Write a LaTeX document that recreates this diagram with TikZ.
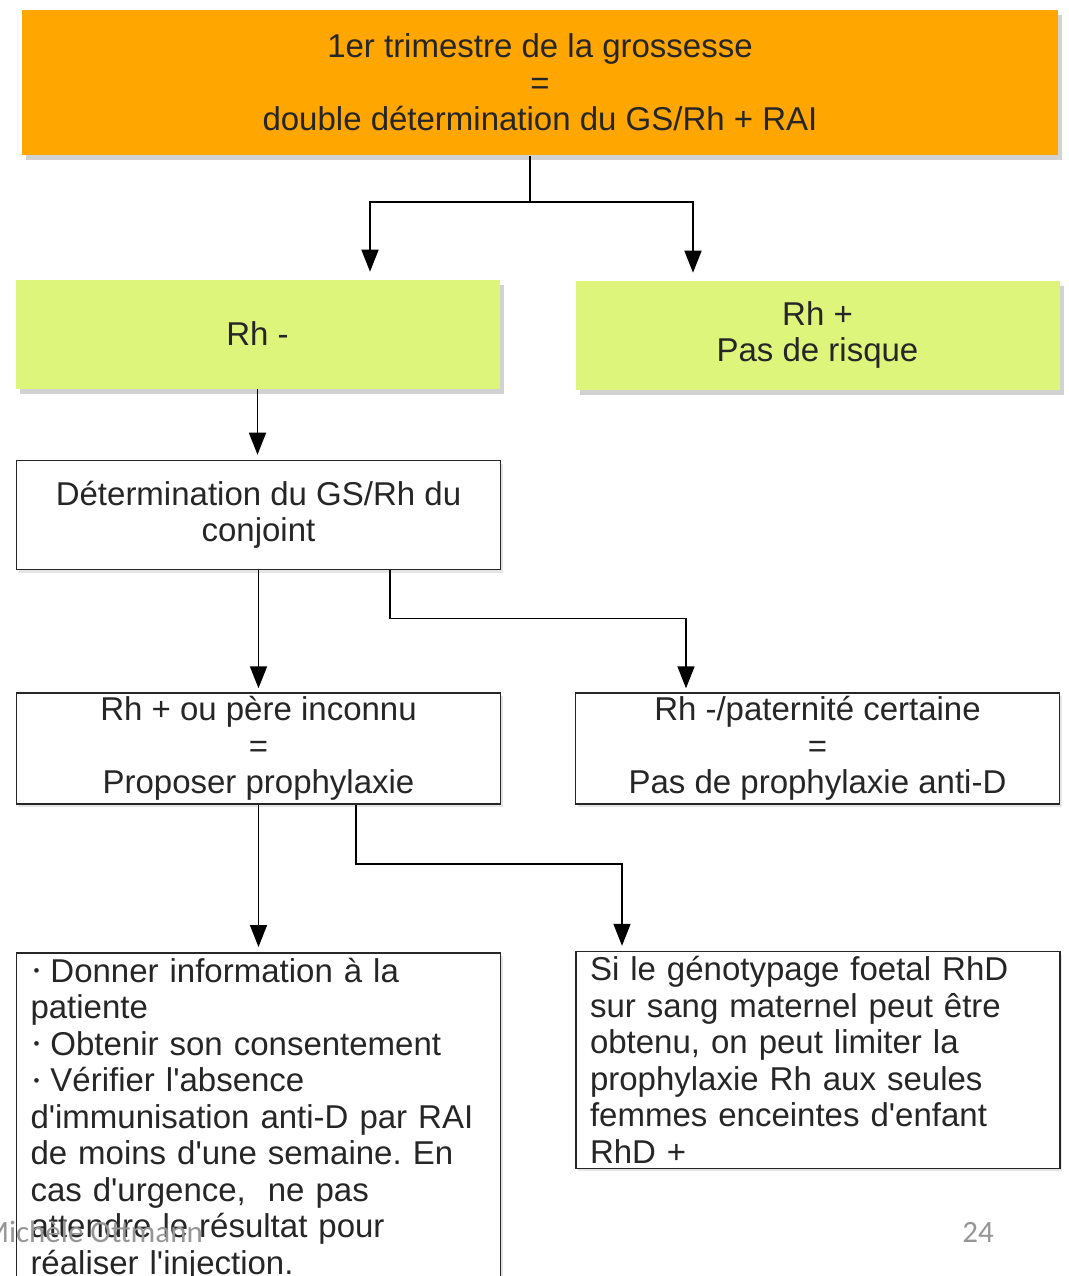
\documentclass[tikz,border=0pt]{standalone}
\usepackage{fontspec}
\setmainfont{Liberation Sans}[Ligatures=TeXOff]
\newfontfamily\footfont{Carlito}
\usetikzlibrary{arrows.meta,calc,shadows}
\definecolor{boxorange}{RGB}{255,166,0}
\definecolor{boxgreen}{RGB}{220,245,122}
\definecolor{footgray}{RGB}{150,150,150}
\newcommand{\flowfont}{\fontsize{33}{36.5}\selectfont}
\newcommand{\puce}{\hspace*{3pt}\raisebox{0.3ex}{\fontsize{17}{17}\selectfont\textbullet}\hspace{11pt}}
\frenchspacing
\tikzset{
    colbox/.style={draw=none, align=center, font=\flowfont, text=black!85,
        drop shadow={shadow xshift=4pt, shadow yshift=-5pt, fill=black!35}},
    topbox/.style={colbox, fill=boxorange, minimum width=1036pt, minimum height=145pt},
    greenbox/.style={colbox, fill=boxgreen, minimum width=484pt, minimum height=109pt},
    whitebox/.style={draw=black!85, line width=1.6pt, fill=white, align=center, font=\flowfont,
        text=black!85, minimum width=484pt, minimum height=109pt,
        drop shadow={shadow xshift=2pt, shadow yshift=-3pt, fill=black!20}},
    textbox/.style={whitebox, align=left, text width=456pt, inner xsep=14pt, inner ysep=5pt},
    footer/.style={font=\footfont\fontsize{31}{31}\selectfont, text=footgray}
}
\begin{document}
\begin{tikzpicture}[x=1pt, y=-1pt, >={Triangle[length=22pt, width=17pt]}, line width=1.6pt]
    \useasboundingbox (0,0) rectangle (1068,1276);
    % premier trimestre
    \node[topbox] (top) at (540,82.5) {1er trimestre de la grossesse\\=\\double détermination du GS/Rh + RAI};
    % groupe Rh de la mère
    \node[greenbox] (rhneg) at (257.5,334) {Rh -};
    \node[greenbox] (rhpos) at (817.5,335) {Rh +\\Pas de risque};
    % conjoint
    \node[whitebox] (conj) at (258.5,515) {Détermination du GS/Rh du\\conjoint};
    \node[whitebox] (prop) at (258.5,748.5) {Rh + ou père inconnu\\=\\Proposer prophylaxie};
    \node[whitebox] (nopro) at (817.5,748.5) {Rh -/paternité certaine\\=\\Pas de prophylaxie anti-D};
    % conduite à tenir
    \node[textbox, anchor=north] (info) at (258.5,952) {\puce Donner information à la\\patiente\\\puce Obtenir son consentement\\\puce Vérifier l'absence\\d'immunisation anti-D par RAI\\de moins d'une semaine. En\\cas d'urgence,\ \ ne pas\\attendre le résultat pour\\réaliser l'injection.};
    \node[textbox] (geno) at (818,1060) {Si le génotypage foetal RhD\\sur sang maternel peut être\\obtenu, on peut limiter la\\prophylaxie Rh aux seules\\femmes enceintes d'enfant\\RhD +};
    % liaisons
    \coordinate (s1) at (530,202);
    \draw (top.south -| s1) -- (s1);
    \draw[->, shorten >=7pt] (s1) -| ([xshift=112.5pt]rhneg.north);
    \draw[->, shorten >=7pt] (s1) -| ([xshift=-124.5pt]rhpos.north);
    \draw[->, shorten >=5pt] (rhneg.south) -- (rhneg.south |- conj.north);
    \draw[->, shorten >=4pt] (conj.south) -- (conj.south |- prop.north);
    \draw[->, shorten >=4pt] ([xshift=131.5pt]conj.south) -- ++(0,48) -| ([xshift=-131.5pt]nopro.north);
    \draw[->, shorten >=5pt] (prop.south) -- (prop.south |- info.north);
    \draw[->, shorten >=5pt] ([xshift=97.5pt]prop.south) -- ++(0,59) -| ([xshift=-196pt]geno.north);
    % pied de page
    \node[footer, anchor=east] (auteur) at (207,1232) {Michèle Ottmann};
    \node[footer] (page) at (978,1232) {24};
\end{tikzpicture}
\end{document}
